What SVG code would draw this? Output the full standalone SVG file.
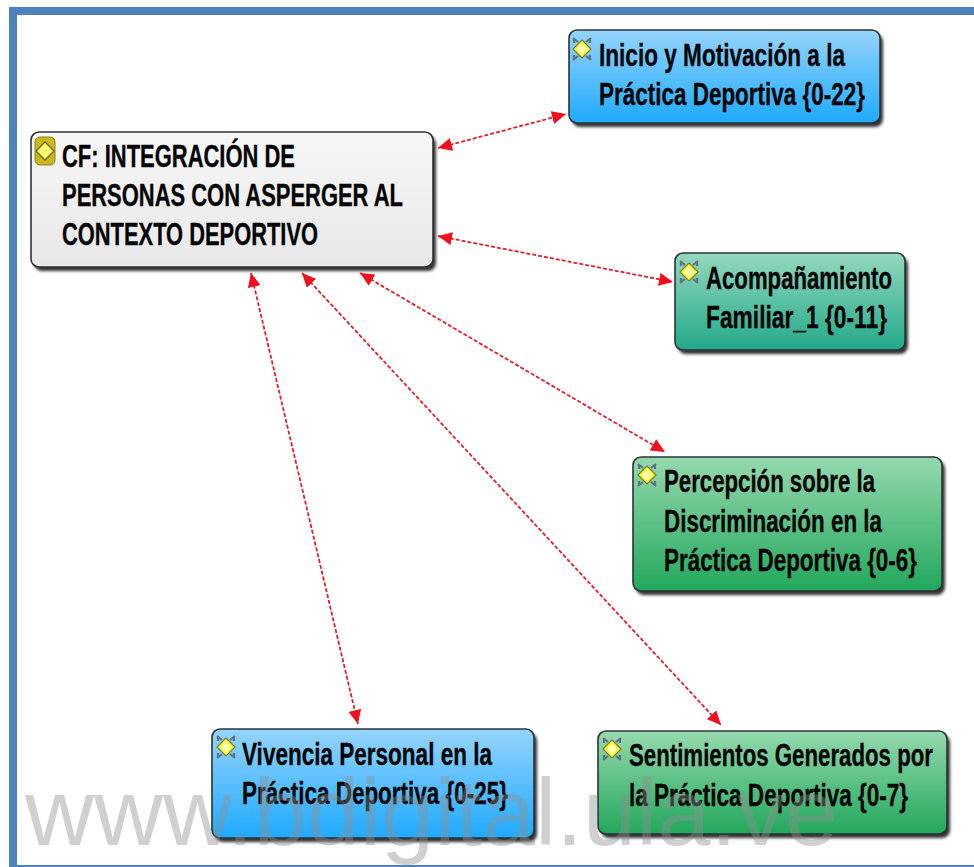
<svg xmlns="http://www.w3.org/2000/svg" width="974" height="867" viewBox="0 0 974 867">
<style>
.box{stroke:#2b3338;stroke-width:1.6}
.t{font-family:"Liberation Sans",Arial,sans-serif;font-weight:700;font-size:31px;fill:#050505;stroke:#050505;stroke-width:.35}
.c{fill:none;stroke:#e0202a;stroke-width:1.8;stroke-dasharray:4 2;marker-start:url(#a);marker-end:url(#a)}
.wm{font-family:"Liberation Sans",Arial,sans-serif;font-size:95px;fill:#8f8f8f;fill-opacity:.42}
</style>
<defs>
<marker id="a" markerUnits="userSpaceOnUse" markerWidth="15" markerHeight="13" refX="14" refY="6.5" orient="auto-start-reverse"><path d="M0 0L14 6.5L0 13Z" fill="#f0101c"/></marker>
<filter id="s" x="-5%" y="-10%" width="110%" height="125%"><feGaussianBlur stdDeviation="1.6"/></filter>
<linearGradient id="gc" x1="0" y1="0" x2="0" y2="1"><stop offset="0" stop-color="#f7f7f7"/><stop offset="1" stop-color="#e8e8e8"/></linearGradient>
<linearGradient id="gb" x1="0" y1="0" x2="0" y2="1"><stop offset="0" stop-color="#95d4fb"/><stop offset="1" stop-color="#1faaff"/></linearGradient>
<linearGradient id="gt" x1="0" y1="0" x2="0" y2="1"><stop offset="0" stop-color="#94d8bd"/><stop offset="1" stop-color="#22a98a"/></linearGradient>
<linearGradient id="gg" x1="0" y1="0" x2="0" y2="1"><stop offset="0" stop-color="#95d9ae"/><stop offset="1" stop-color="#22a75c"/></linearGradient>
<g id="icon">
<path d="M1 1L6 5M19 1L14 5M1 23L6 19M19 23L14 19M2 1L2 6M18 1L18 6M2 23L2 18M18 23L18 18" stroke="#66707a" stroke-width="2.2" fill="none"/>
<path d="M10 3L19 12L10 21L1 12Z" fill="#fbfb3c" stroke="#7c7c30" stroke-width="1.2"/>
<path d="M10 7L15 12L10 17L5 12Z" fill="#ffffb8"/>
</g>
</defs>
<rect width="974" height="867" fill="#fff"/>
<path d="M13 867V11H974" fill="none" stroke="#4f81bd" stroke-width="8"/>
<rect x="9" y="865" width="965" height="2" fill="#4f81bd"/>
<g id="connectors">
<path class="c" d="M438 148L566 114"/>
<path class="c" d="M438 236L673 282"/>
<path class="c" d="M360 273L665 452"/>
<path class="c" d="M302 273L721 725"/>
<path class="c" d="M251 273L358 724"/>
</g>
<g id="node-central">
<rect x="34" y="136" width="402" height="135" rx="8" fill="#333" filter="url(#s)"/>
<rect class="box" x="31" y="132" width="402" height="135" rx="8" fill="url(#gc)"/>
<rect x="35" y="137" width="20" height="28" rx="5" fill="#c9b81c" stroke="#8d8420"/>
<path d="M45 142L54 151L45 160L36 151Z" fill="#fbfb70" stroke="#6f6a18" stroke-width="1.4"/>
<text class="t"><tspan x="62" y="167" textLength="233" lengthAdjust="spacingAndGlyphs">CF: INTEGRACIÓN DE</tspan><tspan x="62" y="206" textLength="341" lengthAdjust="spacingAndGlyphs">PERSONAS CON ASPERGER AL</tspan><tspan x="62" y="245" textLength="256" lengthAdjust="spacingAndGlyphs">CONTEXTO DEPORTIVO</tspan></text>
</g>
<g id="node-inicio">
<rect x="572" y="34" width="311" height="93" rx="8" fill="#333" filter="url(#s)"/>
<rect class="box" x="569" y="30" width="311" height="93" rx="8" fill="url(#gb)"/>
<use href="#icon" x="572" y="37"/>
<text class="t"><tspan x="599" y="66" textLength="246" lengthAdjust="spacingAndGlyphs">Inicio y Motivación a la</tspan><tspan x="599" y="105" textLength="266" lengthAdjust="spacingAndGlyphs">Práctica Deportiva {0-22}</tspan></text>
</g>
<g id="node-acompanamiento">
<rect x="678" y="257" width="230" height="97" rx="8" fill="#333" filter="url(#s)"/>
<rect class="box" x="675" y="253" width="230" height="97" rx="8" fill="url(#gt)"/>
<use href="#icon" x="679" y="260"/>
<text class="t"><tspan x="706" y="289" textLength="186" lengthAdjust="spacingAndGlyphs">Acompañamiento</tspan><tspan x="706" y="328" textLength="181" lengthAdjust="spacingAndGlyphs">Familiar_1 {0-11}</tspan></text>
</g>
<g id="node-percepcion">
<rect x="636" y="461" width="309" height="134" rx="8" fill="#333" filter="url(#s)"/>
<rect class="box" x="633" y="457" width="309" height="134" rx="8" fill="url(#gg)"/>
<use href="#icon" x="637" y="463"/>
<text class="t"><tspan x="664" y="492" textLength="211" lengthAdjust="spacingAndGlyphs">Percepción sobre la</tspan><tspan x="664" y="532" textLength="218" lengthAdjust="spacingAndGlyphs">Discriminación en la</tspan><tspan x="664" y="571" textLength="253" lengthAdjust="spacingAndGlyphs">Práctica Deportiva {0-6}</tspan></text>
</g>
<g id="node-sentimientos">
<rect x="601" y="735" width="349" height="103" rx="8" fill="#333" filter="url(#s)"/>
<rect class="box" x="598" y="731" width="349" height="103" rx="8" fill="url(#gg)"/>
<use href="#icon" x="602" y="737"/>
<text class="t"><tspan x="629" y="766" textLength="304" lengthAdjust="spacingAndGlyphs">Sentimientos Generados por</tspan><tspan x="629" y="806" textLength="279" lengthAdjust="spacingAndGlyphs">la Práctica Deportiva {0-7}</tspan></text>
</g>
<g id="node-vivencia">
<rect x="215" y="733" width="322" height="109" rx="8" fill="#333" filter="url(#s)"/>
<rect class="box" x="212" y="729" width="322" height="109" rx="8" fill="url(#gb)"/>
<use href="#icon" x="216" y="735"/>
<text class="t"><tspan x="242" y="765" textLength="250" lengthAdjust="spacingAndGlyphs">Vivencia Personal en la</tspan><tspan x="242" y="804" textLength="266" lengthAdjust="spacingAndGlyphs">Práctica Deportiva {0-25}</tspan></text>
</g>
<text class="wm" x="25" y="845" textLength="813" lengthAdjust="spacingAndGlyphs">www.bdigital.ula.ve</text>
</svg>
